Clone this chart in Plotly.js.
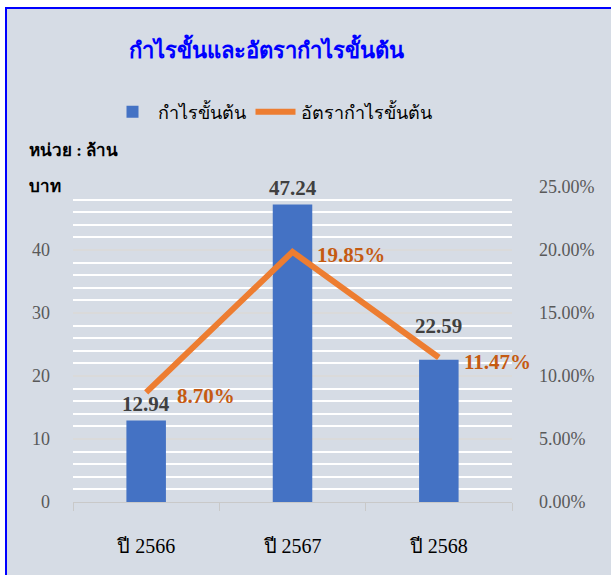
<!DOCTYPE html>
<html><head><meta charset="utf-8">
<script src="https://cdn.plot.ly/plotly-3.0.1.min.js"></script>
<style>body{margin:0;background:#fff}#g{width:611px;height:575px}</style>
</head><body><div id="g"></div>
<script>
const categories = ['ปี 2566', 'ปี 2567', 'ปี 2568'];
const grossProfit = [12.94, 47.24, 22.59];
const grossMargin = [0.087, 0.1985, 0.1147];
const leftTicks = [0, 10, 20, 30, 40, 50];
const leftTickText = ['0', '10', '20', '30', '40', ''];
const rightTicks = [0, 0.05, 0.10, 0.15, 0.20, 0.25];

const serif = 'Liberation Serif, Times New Roman, serif';

const traces = [
  {
    type: 'bar', name: 'กำไรขั้นต้น', x: categories, y: grossProfit,
    marker: {color: '#4472C4'}, width: 0.27, hoverinfo: 'skip'
  },
  {
    type: 'scatter', mode: 'lines', name: 'อัตรากำไรขั้นต้น', x: categories, y: grossMargin,
    yaxis: 'y2', line: {color: '#ED7D31', width: 6}, hoverinfo: 'skip'
  }
];

const barLabelShift = [2, 2, 20];
const annotations = grossProfit.map((v, i) => ({
  x: categories[i], y: v, xref: 'x', yref: 'y', xanchor: 'center', yanchor: 'bottom',
  yshift: barLabelShift[i], showarrow: false, text: '<b>' + v.toFixed(2) + '</b>',
  font: {family: serif, size: 21, color: '#404040'}
}));
const shiftX = [29, 22, 23];
const shiftY = [-4, -3, -5];
grossMargin.forEach((v, i) => annotations.push({
  x: categories[i], y: v, xref: 'x', yref: 'y2', xanchor: 'left', yanchor: 'middle',
  xshift: shiftX[i], yshift: shiftY[i], showarrow: false, text: '<b>' + (v * 100).toFixed(2) + '%</b>',
  font: {family: serif, size: 21, color: '#C55A11'}
}));
annotations.push(
  {xref: 'paper', yref: 'paper', x: -0.105, y: (502 - 150) / 315, xanchor: 'left', yanchor: 'middle',
   showarrow: false, text: '<b>หน่วย : ล้าน</b>', font: {family: serif, size: 17, color: '#000'}},
  {xref: 'paper', yref: 'paper', x: -0.105, y: (502 - 186) / 315, xanchor: 'left', yanchor: 'middle',
   showarrow: false, text: '<b>บาท</b>', font: {family: serif, size: 17, color: '#000'}}
);

const layout = {
  width: 611, height: 575,
  margin: {l: 73, r: 99, t: 187, b: 73},
  paper_bgcolor: '#ffffff', plot_bgcolor: 'rgba(0,0,0,0)',
  showlegend: true,
  title: {text: '<b>กำไรขั้นและอัตรากำไรขั้นต้น</b>', x: (266 - 73) / 439, xref: 'paper', xanchor: 'center',
          y: 1 - 50 / 575, yanchor: 'middle', font: {family: serif, size: 22, color: '#0000FF'}},
  legend: {orientation: 'h', x: (272 - 73) / 439, xanchor: 'center', y: (502 - 112) / 315, yanchor: 'middle',
           font: {family: serif, size: 18, color: '#000'}, bgcolor: 'rgba(0,0,0,0)', itemwidth: 40},
  xaxis: {type: 'category', range: [-0.5, 2.5], tickson: 'boundaries', ticks: 'outside', ticklen: 8, tickcolor: '#C9C9C9',
          showline: true, linecolor: '#C9C9C9', linewidth: 1, showgrid: false, automargin: false,
          tickfont: {family: serif, size: 20, color: '#000'}, ticklabelstandoff: 26, fixedrange: true},
  yaxis: {range: [0, 50], tickvals: leftTicks, ticktext: leftTickText, showgrid: true, automargin: false,
          gridcolor: '#DADADA', gridwidth: 2, zeroline: false, showline: false,
          tickfont: {family: serif, size: 18, color: '#595959'}, ticklabelstandoff: 22,
          minor: {dtick: 2, tick0: 0, showgrid: true, gridcolor: '#FFFFFF', gridwidth: 2}},
  yaxis2: {range: [0, 0.25], tickvals: rightTicks, tickformat: '.2%', overlaying: 'y', side: 'right',
           showgrid: false, zeroline: false, showline: false, automargin: false,
           tickfont: {family: serif, size: 18, color: '#595959'}, ticklabelstandoff: 26},
  shapes: [{type: 'rect', xref: 'paper', yref: 'paper', layer: 'below',
            x0: (6 - 73) / 439, x1: (640 - 73) / 439, y0: (502 - 600) / 315, y1: (502 - 8) / 315,
            fillcolor: '#D6DCE5', line: {color: '#0000FF', width: 2}}],
  annotations: annotations
};

Plotly.newPlot('g', traces, layout, {displayModeBar: false, staticPlot: true});
</script></body></html>
